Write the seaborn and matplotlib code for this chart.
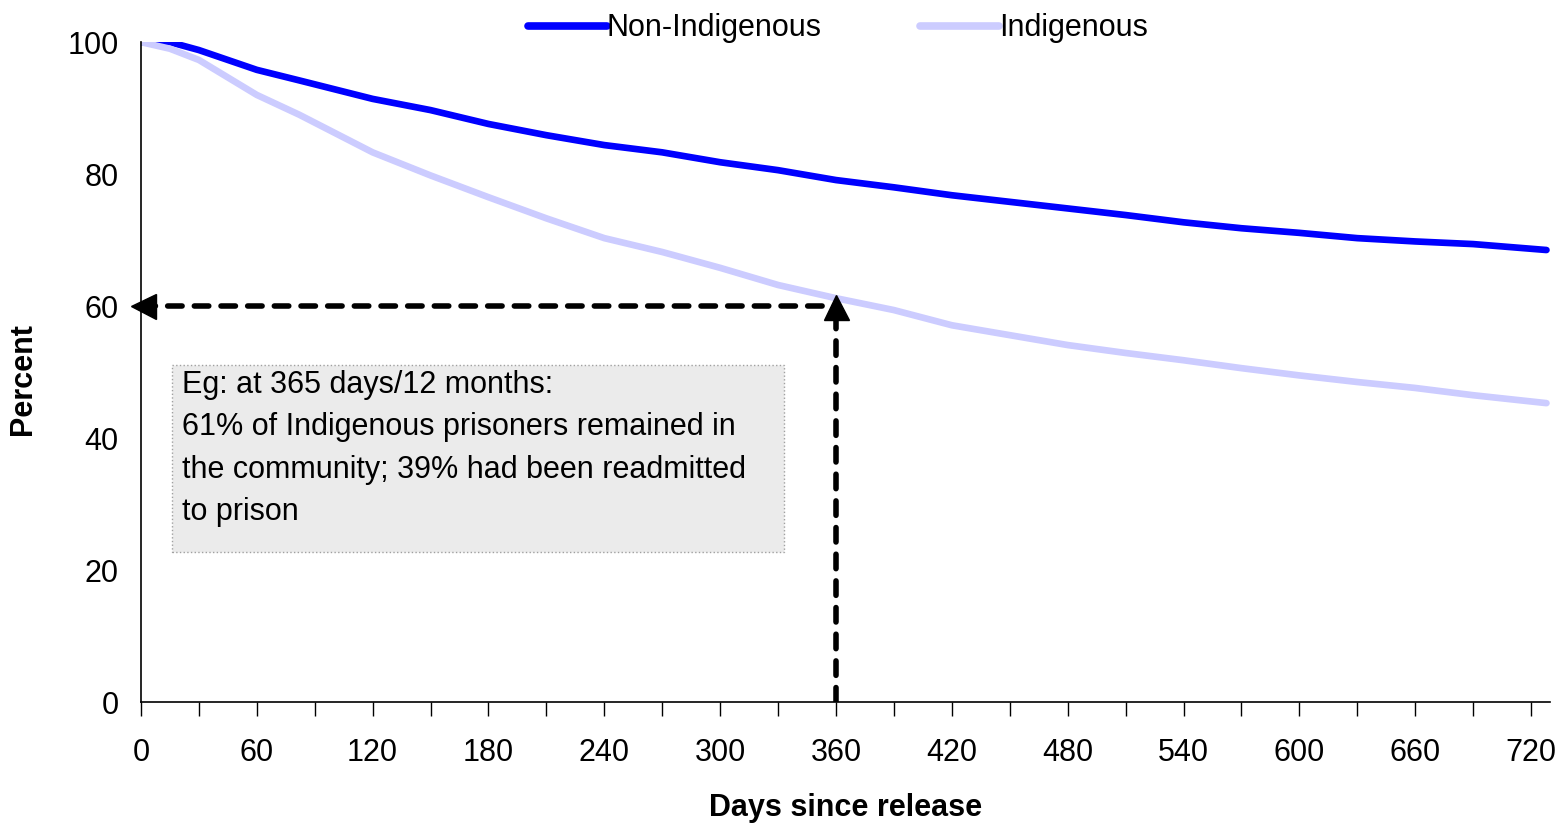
import numpy as np
import pandas as pd
import matplotlib
matplotlib.use("Agg")
import matplotlib.pyplot as plt
from matplotlib.patches import Rectangle
import seaborn as sns

# ── Data ──────────────────────────────────────────────────
days = [0, 15, 30, 60, 82, 120, 150, 180, 210, 240, 270, 300, 330, 360,
        390, 420, 450, 480, 510, 540, 570, 600, 630, 660, 690, 728]
non_indigenous = [100, 100, 98.8, 95.8, 94.2, 91.4, 89.7, 87.6, 85.9, 84.4,
                  83.3, 81.8, 80.6, 79.1, 78.0, 76.8, 75.8, 74.8, 73.8, 72.7,
                  71.8, 71.1, 70.3, 69.8, 69.4, 68.5]
indigenous = [100, 99.0, 97.3, 92.0, 89.0, 83.3, 79.8, 76.5, 73.3, 70.3,
              68.2, 65.8, 63.2, 61.2, 59.4, 57.1, 55.6, 54.1, 52.9, 51.8,
              50.6, 49.5, 48.5, 47.6, 46.5, 45.3]
groups = ["Non-Indigenous", "Indigenous"]
x_ticks = list(range(0, 721, 60))
y_ticks = [0, 20, 40, 60, 80, 100]

# example callout
ex_day, ex_pct, ex_pct_arrow = 360, 60, 61.3
note = ("Eg: at 365 days/12 months:\n"
        "61% of Indigenous prisoners remained in\n"
        "the community; 39% had been readmitted\n"
        "to prison")

df = pd.DataFrame({
    "days": days * 2,
    "pct": non_indigenous + indigenous,
    "group": [groups[0]] * len(days) + [groups[1]] * len(days),
})

# ── Style ─────────────────────────────────────────────────
sns.set_style("white")
plt.rcParams["font.family"] = ["Liberation Sans", "DejaVu Sans"]
plt.rcParams["text.color"] = "black"
plt.rcParams["axes.labelcolor"] = "black"
plt.rcParams["xtick.color"] = "black"
plt.rcParams["ytick.color"] = "black"
COLORS = {"Non-Indigenous": "#0000FF", "Indigenous": "#CCCCFF"}
FS = 22

fig = plt.figure(figsize=(15.66, 8.26), dpi=100)
ax = fig.add_axes([0.090, 0.150, 0.900, 0.799])

sns.lineplot(data=df, x="days", y="pct", hue="group", palette=COLORS,
             hue_order=groups, linewidth=4.8, ax=ax, legend=False)

# dashed guide arrows
dash = (0, (2.6, 2.2))
ax.plot([0, ex_day], [ex_pct, ex_pct], color="black", lw=4,
        ls=dash, dash_capstyle="round", zorder=5)
ax.plot([ex_day, ex_day], [0, ex_pct_arrow - 1], color="black", lw=4,
        ls=dash, dash_capstyle="round", zorder=5)
ax.plot([1.0], [ex_pct], marker="<", color="black", ms=18, zorder=6,
        clip_on=False)
ax.plot([ex_day], [ex_pct_arrow - 1.4], marker="^", color="black", ms=18,
        zorder=6)

# note box
ax.add_patch(Rectangle((0.022, 0.227), 0.434, 0.284, transform=ax.transAxes,
                       facecolor="#ebebeb", edgecolor="#a0a0a0",
                       linestyle=":", linewidth=1, zorder=4))
ax.text(0.029, 0.503, note, transform=ax.transAxes, fontsize=FS,
        va="top", ha="left", linespacing=1.53, zorder=7)

# axes
ax.set_xlim(0, 730)
ax.set_ylim(0, 100)
ax.set_xticks(x_ticks)
ax.set_xticks(range(30, 721, 60), minor=True)
ax.set_yticks(y_ticks)
ax.tick_params(axis="x", which="both", direction="out", length=10,
               width=1, bottom=True, labelsize=FS, pad=16)
ax.tick_params(axis="y", length=0, labelsize=FS, pad=16)
for s in ["top", "right"]:
    ax.spines[s].set_visible(False)
for s in ["left", "bottom"]:
    ax.spines[s].set_color("black")
    ax.spines[s].set_linewidth(1.2)
ax.set_xlabel("Days since release", fontsize=FS, fontweight="bold")
ax.xaxis.set_label_coords(0.5, -0.138)
ax.set_ylabel("Percent", fontsize=FS, fontweight="bold")
ax.yaxis.set_label_coords(-0.073, 0.49)

# legend above the plot
handles = [plt.Line2D([], [], color=COLORS[g], lw=5.5, solid_capstyle="round")
           for g in groups]
fig.legend(handles, groups, loc="upper center", bbox_to_anchor=(0.535, 1.017),
           ncol=2, frameon=False, fontsize=FS, handlelength=2.6,
           handletextpad=0.0, columnspacing=3.2)

plt.savefig("out.png", dpi=100)
plt.close()
